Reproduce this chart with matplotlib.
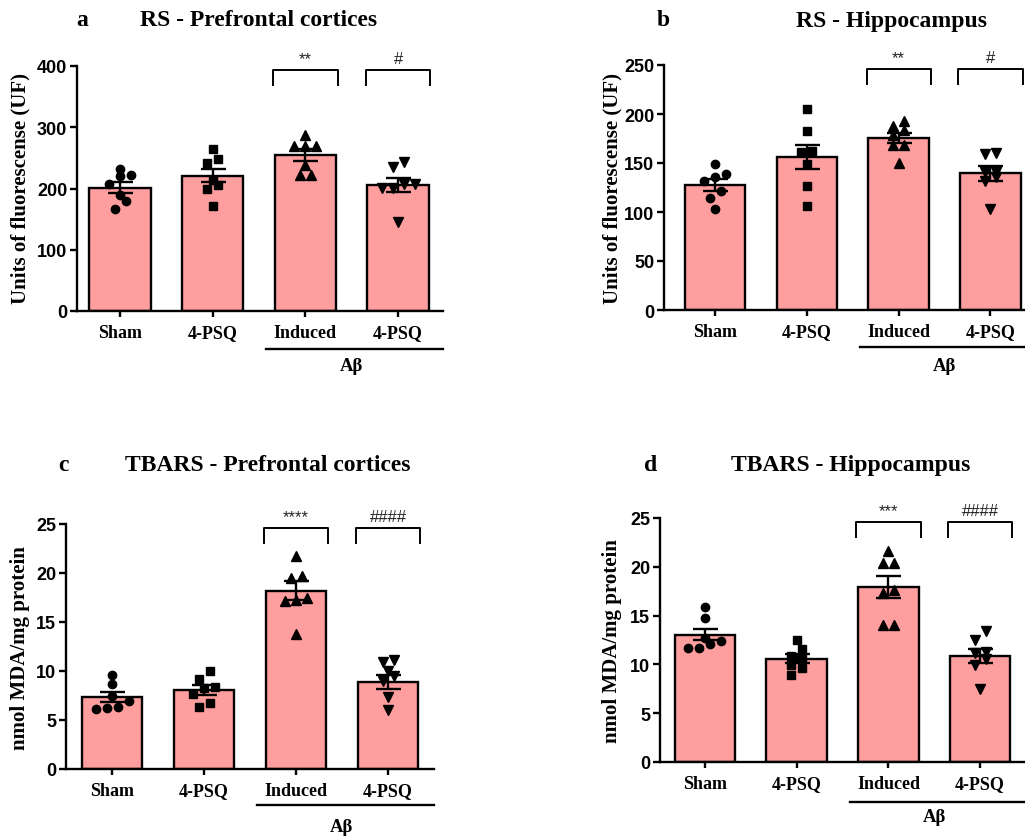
import numpy as np
import matplotlib
matplotlib.use("Agg")
import matplotlib.pyplot as plt
import matplotlib.transforms as mtransforms

# ---- data ----
groups = ["Sham", "4-PSQ", "Induced", "4-PSQ"]

rs_pfc_points = [
    [232.6, 221.7, 220.6, 208.0, 189.0, 179.0, 166.0],
    [264.7, 247.8, 242.4, 214.0, 206.5, 200.0, 171.7],
    [287.0, 269.6, 269.6, 269.6, 238.6, 222.0, 222.0],
    [243.5, 235.9, 207.0, 207.0, 201.6, 201.6, 145.7],
]
rs_pfc_mean = [201.0, 221.0, 255.0, 206.0]
rs_pfc_sem = [9.0, 11.0, 10.0, 11.5]

rs_hip_points = [
    [149.2, 138.3, 136.2, 131.8, 121.6, 113.8, 102.9],
    [204.7, 182.9, 162.5, 161.4, 148.8, 126.7, 106.3],
    [192.8, 188.0, 183.9, 178.8, 168.3, 168.3, 150.5],
    [160.0, 159.0, 141.0, 141.0, 136.2, 131.8, 102.9],
]
rs_hip_mean = [127.4, 156.0, 175.7, 139.3]
rs_hip_sem = [6.1, 12.5, 5.3, 7.8]

tbars_pfc_points = [
    [9.59, 8.64, 7.48, 6.91, 6.30, 6.19, 6.12],
    [10.03, 9.18, 8.33, 8.23, 7.65, 6.73, 6.36],
    [21.77, 19.73, 19.49, 17.41, 17.28, 17.14, 13.78],
    [11.15, 10.95, 10.03, 9.46, 9.01, 7.32, 6.05],
]
tbars_pfc_mean = [7.32, 8.09, 18.2, 8.85]
tbars_pfc_sem = [0.51, 0.51, 1.0, 0.72]

tbars_hip_points = [
    [15.91, 14.72, 12.70, 12.43, 12.09, 11.65, 11.65],
    [12.53, 11.54, 10.86, 10.59, 9.97, 9.63, 8.88],
    [21.58, 20.40, 20.40, 17.60, 17.35, 14.07, 14.07],
    [13.39, 12.53, 11.27, 11.17, 10.59, 9.90, 7.45],
]
tbars_hip_mean = [13.05, 10.59, 17.93, 10.86]
tbars_hip_sem = [0.58, 0.46, 1.17, 0.71]

sig_rs_pfc = ["**", "#"]
sig_rs_hip = ["**", "#"]
sig_tbars_pfc = ["****", "####"]
sig_tbars_hip = ["***", "####"]

# ---- styling ----
W, H = 1025, 837
BAR_COLOR = "#FF9E9E"
SERIF = "Liberation Serif"
SANS = "Liberation Sans"
markers = ["o", "s", "^", "v"]
msizes = [6.0, 5.6, 6.8, 6.8]


def fpos(x, y):
    return x / W, 1 - y / H


def swarm(vals, px_per_y, step_px=11.0, thr_px=8.5):
    vals = np.asarray(vals)
    order = np.argsort(vals)
    rows = []
    for i in order:
        if rows and (vals[i] - vals[rows[-1][0]]) * px_per_y < thr_px:
            rows[-1].append(i)
        else:
            rows.append([i])
    offs = np.zeros(len(vals))
    for row in rows:
        n = len(row)
        for k, i in enumerate(row):
            offs[i] = (k - (n - 1) / 2) * step_px
    return offs


def panel(box, xlim, ymax, ystep, points, means, sems, sigs,
          letter, title, letter_xy, title_xy, ylabel, ylabel_xy,
          line_y, abeta_y):
    l, t, r, b = box
    x0, y0 = fpos(l, b)
    ax = fig.add_axes([x0, y0, (r - l) / W, (b - t) / H])
    ax.set_xlim(*xlim)
    ax.set_ylim(0, ymax)
    xs = np.arange(len(groups))
    ax.bar(xs, means, width=0.66, color=BAR_COLOR, edgecolor="black",
           linewidth=1.7, zorder=2)
    px_per_y = (b - t) / ymax
    px_per_x = (r - l) / (xlim[1] - xlim[0])
    for i, pts in enumerate(points):
        offs = swarm(pts, px_per_y)
        ax.plot(xs[i] + offs / px_per_x, pts, linestyle="none",
                marker=markers[i], ms=msizes[i], color="black", zorder=3)
    ax.errorbar(xs, means, yerr=sems, fmt="none", ecolor="black",
                elinewidth=1.7, capsize=9, capthick=1.7, zorder=4)

    for s in ["top", "right"]:
        ax.spines[s].set_visible(False)
    for s in ["left", "bottom"]:
        ax.spines[s].set_linewidth(1.7)
    ax.set_yticks(np.arange(0, ymax + 1e-9, ystep))
    ax.set_xticks(xs)
    ax.set_xticklabels(groups, fontfamily=SERIF, fontweight="bold",
                       fontsize=13)
    for lab in ax.get_yticklabels():
        lab.set_fontfamily(SANS)
        lab.set_fontweight("bold")
        lab.set_fontsize(13)
    ax.tick_params(axis="y", length=5, width=1.7, pad=2)
    ax.tick_params(axis="x", length=4.5, width=1.7, pad=5)

    # significance brackets
    tr = mtransforms.blended_transform_factory(ax.transData, ax.transAxes)
    for k, lab in enumerate(sigs):
        c = xs[2 + k]
        ax.plot([c - 0.35, c - 0.35, c + 0.35, c + 0.35],
                [0.92, 0.985, 0.985, 0.92], transform=tr, color="black",
                lw=1.4, clip_on=False, solid_capstyle="butt")
        ax.text(c, 1.0, lab, transform=tr, ha="center", va="bottom",
                fontsize=12, fontfamily=SANS, color="#222222")

    # A-beta grouping line
    ax.plot([1.58, xlim[1]], [line_y, line_y], transform=tr, color="black",
            lw=1.7, clip_on=False)
    ax.text(2.5, abeta_y, "A\u03b2", transform=tr, ha="center", va="center",
            fontfamily=SERIF, fontweight="bold", fontsize=13.5)

    fig.text(*fpos(*letter_xy), letter, ha="center", va="center",
             fontfamily=SERIF, fontweight="bold", fontsize=17)
    fig.text(*fpos(*title_xy), title, ha="center", va="center",
             fontfamily=SERIF, fontweight="bold", fontsize=17)
    fig.text(*fpos(*ylabel_xy), ylabel, ha="center", va="center",
             rotation=90, fontfamily=SERIF, fontweight="bold", fontsize=15)
    return ax


fig = plt.figure(figsize=(W / 100, H / 100), dpi=100)

panel((77, 67, 443, 312), (-0.464, 3.485), 400, 100,
      rs_pfc_points, rs_pfc_mean, rs_pfc_sem, sig_rs_pfc,
      "a", "RS - Prefrontal cortices", (82, 21), (259, 21),
      "Units of fluorescense (UF)", (20, 189), -0.155, -0.224)

panel((664, 66, 1035, 311), (-0.556, 3.485), 250, 50,
      rs_hip_points, rs_hip_mean, rs_hip_sem, sig_rs_hip,
      "b", "RS - Hippocampus", (663, 21), (892, 21),
      "Units of fluorescense (UF)", (612, 189), -0.152, -0.226)

panel((66, 525, 434, 770), (-0.5, 3.5), 25, 5,
      tbars_pfc_points, tbars_pfc_mean, tbars_pfc_sem, sig_tbars_pfc,
      "c", "TBARS - Prefrontal cortices", (63, 466), (268, 466),
      "nmol MDA/mg protein", (20, 648), -0.147, -0.233)

panel((660, 519, 1026, 763), (-0.49, 3.5), 25, 5,
      tbars_hip_points, tbars_hip_mean, tbars_hip_sem, sig_tbars_hip,
      "d", "TBARS - Hippocampus", (651, 466), (851, 466),
      "nmol MDA/mg protein", (612, 641), -0.164, -0.225)

fig.savefig("out.png", dpi=100)
